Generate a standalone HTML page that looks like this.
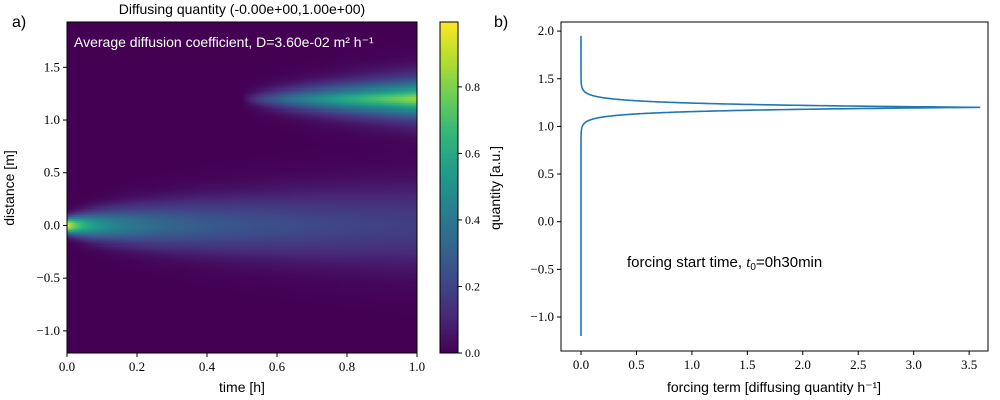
<!DOCTYPE html>
<html><head><meta charset="utf-8"><style>
body{margin:0;background:#fff;width:1000px;height:400px;overflow:hidden}
svg{position:absolute;left:0;top:0}
.t{font-family:"Liberation Serif",serif;font-size:13px;fill:#000}
.s{font-family:"Liberation Sans",sans-serif;font-size:14px;fill:#000}
</style></head><body>
<canvas id="hm" width="350" height="331" style="position:absolute;left:67px;top:22px"></canvas>
<canvas id="cb" width="18" height="331" style="position:absolute;left:440px;top:22px"></canvas>
<svg id="svg" width="1000" height="400"></svg>
<script>
// data
const diffusionD = [0.036];          // m^2/h
const initialPeak = [1.0, 0.0, 0.05]; // amplitude, center, width
const forcingParams = [3.6, 1.2, 0.035]; // peak, center, width
const forcingStart = [0.5];          // h
const forcingGain = [2.0];
const xTicksA = [0,0.2,0.4,0.6,0.8,1.0];
const yTicksA = [-1.0,-0.5,0.0,0.5,1.0,1.5];
const cbTicks = [0.0,0.2,0.4,0.6,0.8];
const xTicksB = [0,0.5,1,1.5,2,2.5,3,3.5];
const yTicksB = [-1.0,-0.5,0.0,0.5,1.0,1.5,2.0];

const NS='http://www.w3.org/2000/svg', svg=document.getElementById('svg');
function el(tag,attrs,txt){const e=document.createElementNS(NS,tag);for(const k in attrs)e.setAttribute(k,attrs[k]);if(txt!==undefined)e.textContent=txt;svg.appendChild(e);return e;}
const VIR=[[68,1,84],[72,40,120],[62,74,137],[49,104,142],[38,130,142],[31,158,137],[53,183,121],[109,205,89],[180,222,44],[253,231,37]];
function vir(v){v=Math.max(0,Math.min(1,v))*9;const i=Math.min(8,Math.floor(v)),f=v-i;const a=VIR[i],b=VIR[i+1];return [0,1,2].map(k=>Math.round(a[k]+(b[k]-a[k])*f));}
function forcing(y){return forcingParams[0]*Math.exp(-Math.abs(y-forcingParams[1])/forcingParams[2]);}

const ax={x0:67,x1:417,y0:22,y1:353,tmin:0,tmax:1,ymin:-1.21,ymax:1.93};
const sx=t=>ax.x0+(t-ax.tmin)/(ax.tmax-ax.tmin)*(ax.x1-ax.x0);
const sy=y=>ax.y1-(y-ax.ymin)/(ax.ymax-ax.ymin)*(ax.y1-ax.y0);

const dy=0.02, ny=Math.round((ax.ymax-ax.ymin)/dy)+1, dt=0.002, nt=500;
let u=new Float64Array(ny);
for(let j=0;j<ny;j++){const y=ax.ymin+j*dy;u[j]=initialPeak[0]*Math.exp(-((y-initialPeak[1])**2)/(2*initialPeak[2]**2));}
const field=[u.slice()];
for(let n=0;n<nt;n++){const t=n*dt;const v=new Float64Array(ny);
 for(let j=0;j<ny;j++){const um=u[Math.max(0,j-1)],up=u[Math.min(ny-1,j+1)];
  v[j]=u[j]+diffusionD[0]*dt*(up-2*u[j]+um)/(dy*dy)+(t>=forcingStart[0]?dt*forcing(ax.ymin+j*dy)*forcingGain[0]:0);}
 u=v;field.push(u.slice());}
const ctx=document.getElementById('hm').getContext('2d');
const img=ctx.createImageData(350,331);
for(let py=0;py<331;py++){const y=ax.ymax-(py+0.5)/331*(ax.ymax-ax.ymin);const j=Math.min(ny-1,Math.max(0,Math.round((y-ax.ymin)/dy)));
 for(let px=0;px<350;px++){const n=Math.min(nt,Math.round((px+0.5)/350*nt));const c=vir(field[n][j]);const o=(py*350+px)*4;img.data[o]=c[0];img.data[o+1]=c[1];img.data[o+2]=c[2];img.data[o+3]=255;}}
ctx.putImageData(img,0,0);
const cctx=document.getElementById('cb').getContext('2d');
for(let py=0;py<331;py++){const c=vir(1-py/331);cctx.fillStyle=`rgb(${c})`;cctx.fillRect(0,py,18,1);}

el('rect',{x:ax.x0,y:ax.y0,width:ax.x1-ax.x0,height:ax.y1-ax.y0,fill:'none',stroke:'#000','stroke-width':1,});
xTicksA.forEach(t=>{el('line',{x1:sx(t),x2:sx(t),y1:ax.y1,y2:ax.y1+4,stroke:'#000'});el('text',{x:sx(t),y:ax.y1+18,'text-anchor':'middle',class:'t',},t.toFixed(1));});
yTicksA.forEach(t=>{el('line',{x1:ax.x0-4,x2:ax.x0,y1:sy(t),y2:sy(t),stroke:'#000'});el('text',{x:ax.x0-7,y:sy(t)+4,'text-anchor':'end',class:'t',},(t<0?'\u2212':'')+Math.abs(t).toFixed(1));});
el('text',{x:242,y:14,'text-anchor':'middle',class:'s',},'Diffusing quantity (-0.00e+00,1.00e+00)');
el('text',{x:12,y:27,class:'s',style:'font-size:16px',},'a)');
el('text',{x:74,y:47,class:'s',style:'fill:#fff',},'Average diffusion coefficient, D=3.60e-02 m² h⁻¹');
el('text',{x:242,y:392,'text-anchor':'middle',class:'s',},'time [h]');
el('text',{x:14,y:188,'text-anchor':'middle',class:'s',transform:'rotate(-90 14 188)',},'distance [m]');
el('rect',{x:440,y:22,width:18,height:331,fill:'none',stroke:'#000',});
cbTicks.forEach(v=>{const y=353-v/0.995*331;el('line',{x1:458,x2:462,y1:y,y2:y,stroke:'#000'});el('text',{x:465,y:y+4,class:'t',style:'font-size:12px',},v.toFixed(1));});
el('text',{x:500,y:188,'text-anchor':'middle',class:'s',transform:'rotate(-90 500 188)',},'quantity [a.u.]');

const bx={x0:561,x1:988,y0:22,y1:351};
const bsx=v=>581+v*110.9, bsy=v=>221.7-v*95.3;
el('rect',{x:bx.x0,y:bx.y0,width:bx.x1-bx.x0,height:bx.y1-bx.y0,fill:'none',stroke:'#000',});
xTicksB.forEach(t=>{el('line',{x1:bsx(t),x2:bsx(t),y1:bx.y1,y2:bx.y1+4,stroke:'#000'});el('text',{x:bsx(t),y:bx.y1+18,'text-anchor':'middle',class:'t',},t.toFixed(1));});
yTicksB.forEach(t=>{el('line',{x1:bx.x0-4,x2:bx.x0,y1:bsy(t),y2:bsy(t),stroke:'#000'});el('text',{x:bx.x0-7,y:bsy(t)+4,'text-anchor':'end',class:'t',},(t<0?'\u2212':'')+Math.abs(t).toFixed(1));});
let d='';for(let i=0;i<=3150;i++){const y=-1.2+i*0.001;d+=(i?'L':'M')+bsx(forcing(y)).toFixed(2)+' '+bsy(y).toFixed(2);}
el('path',{d:d,fill:'none',stroke:'#1f77b4','stroke-width':1.6,});
el('text',{x:494,y:27,class:'s',style:'font-size:16px',},'b)');
const ann=el('text',{x:627,y:267,class:'s',style:'font-size:15px',},'forcing start time, ');
const ts=document.createElementNS(NS,'tspan');ts.setAttribute('font-style','italic');ts.setAttribute('font-family','Liberation Serif');ts.textContent='t';ann.appendChild(ts);
const ts2=document.createElementNS(NS,'tspan');ts2.setAttribute('font-size','10');ts2.setAttribute('dy','3');ts2.textContent='0';ann.appendChild(ts2);
const ts3=document.createElementNS(NS,'tspan');ts3.setAttribute('dy','-3');ts3.textContent='=0h30min';ann.appendChild(ts3);
el('text',{x:774,y:392,'text-anchor':'middle',class:'s',},'forcing term [diffusing quantity h⁻¹]');
</script>
</body></html>
